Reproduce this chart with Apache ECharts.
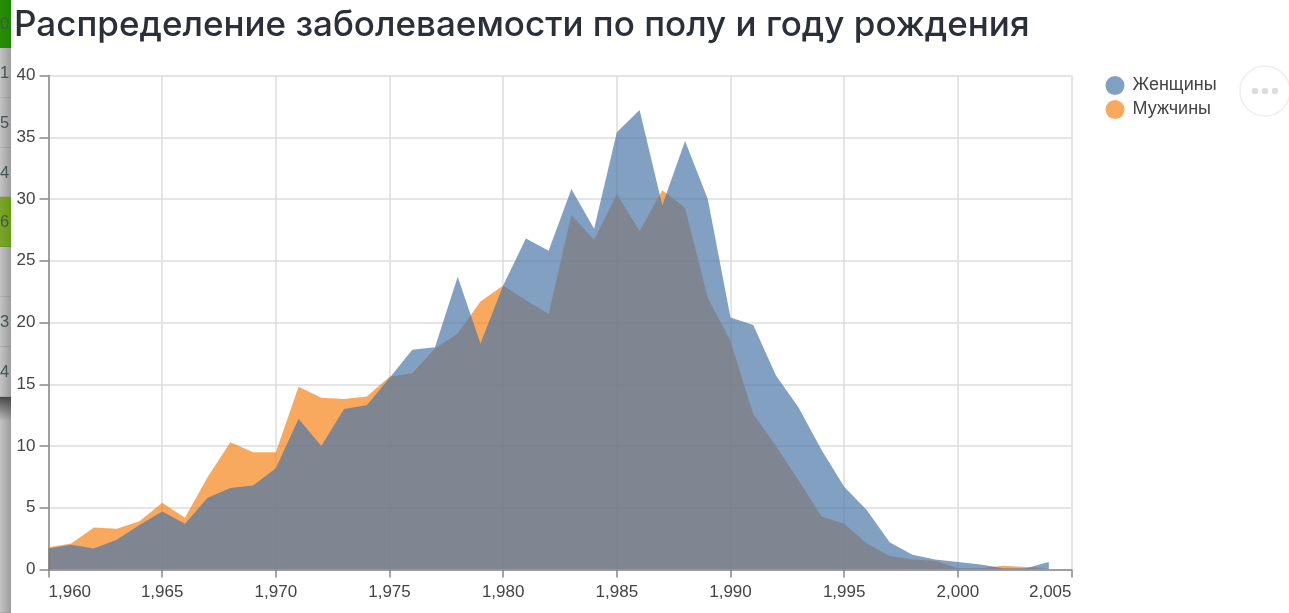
<!DOCTYPE html>
<html>
<head>
<meta charset="utf-8">
<style>
  html, body { margin: 0; padding: 0; background: #fff; }
  #chart { width: 1289px; height: 613px; }
</style>
<script src="https://cdn.jsdelivr.net/npm/echarts@6/dist/echarts.min.js"></script>
</head>
<body>
<div id="chart"></div>
<script>
var years = [1960, 1961, 1962, 1963, 1964, 1965, 1966, 1967, 1968, 1969,
    1970, 1971, 1972, 1973, 1974, 1975, 1976, 1977, 1978, 1979,
    1980, 1981, 1982, 1983, 1984, 1985, 1986, 1987, 1988, 1989,
    1990, 1991, 1992, 1993, 1994, 1995, 1996, 1997, 1998, 1999,
    2000, 2001, 2002, 2003, 2004];
var women = [1.7, 2.0, 1.7, 2.4, 3.6, 4.7, 3.7, 5.8, 6.6, 6.8,
    8.2, 12.2, 10.0, 13.0, 13.3, 15.5, 17.8, 18.0, 23.7, 18.3,
    23.0, 26.8, 25.8, 30.8, 27.6, 35.4, 37.2, 29.5, 34.7, 30.0,
    20.4, 19.8, 15.7, 13.1, 9.7, 6.7, 4.8, 2.2, 1.2, 0.8,
    0.6, 0.4, 0.1, 0.1, 0.6];
var men = [1.8, 2.1, 3.4, 3.3, 3.9, 5.4, 4.2, 7.5, 10.3, 9.5,
    9.5, 14.8, 13.9, 13.8, 14.0, 15.6, 15.9, 17.9, 19.1, 21.7,
    23.0, 21.8, 20.7, 28.7, 26.7, 30.4, 27.4, 30.7, 29.3, 22.0,
    18.5, 12.6, 10.0, 7.2, 4.3, 3.7, 2.1, 1.1, 0.8, 0.7,
    0.1, 0.1, 0.3, 0.2, 0.1];
var titleText = 'Распределение заболеваемости по полу и году рождения';
var womenName = 'Женщины';
var menName = 'Мужчины';
// cut-off table column on the left edge of the screenshot
var stripRows = [
    { y: 0, h: 48, digit: '0', c0: '#2c8c08', c1: '#1c8800' },
    { y: 48, h: 50, digit: '1', c0: '#c4c4c4', c1: '#9c9c9c' },
    { y: 98, h: 50, digit: '5', c0: '#c4c4c4', c1: '#9c9c9c' },
    { y: 148, h: 49, digit: '4', c0: '#c4c4c4', c1: '#9c9c9c' },
    { y: 197, h: 50, digit: '6', c0: '#7ba52c', c1: '#659c12' },
    { y: 247, h: 50, digit: '', c0: '#c4c4c4', c1: '#9c9c9c' },
    { y: 297, h: 50, digit: '3', c0: '#c4c4c4', c1: '#9c9c9c' },
    { y: 347, h: 50, digit: '4', c0: '#c4c4c4', c1: '#9c9c9c' },
    { y: 397, h: 216, digit: '', c0: '#c4c4c4', c1: '#9c9c9c' }
];

function pairs(values) {
    return values.map(function (v, i) { return [years[i], v]; });
}

var stripGraphic = [];
stripRows.forEach(function (row) {
    stripGraphic.push({
        type: 'rect',
        shape: { x: 0, y: row.y, width: 11, height: row.h },
        style: { fill: new echarts.graphic.LinearGradient(0, 0, 1, 0, [
            { offset: 0, color: row.c0 },
            { offset: 1, color: row.c1 }
        ]) }
    });
    stripGraphic.push({
        type: 'rect',
        shape: { x: 0, y: row.y + row.h - 0.5, width: 11, height: 1 },
        style: { fill: 'rgba(90,90,90,0.35)' }
    });
    if (row.digit) {
        stripGraphic.push({
            type: 'text',
            x: 0,
            y: row.y + row.h / 2 - 8,
            style: { text: row.digit, fill: '#455', font: '16.5px "Liberation Sans"' }
        });
    }
});
// dark shadow under the last table row
stripGraphic.push({
    type: 'rect',
    shape: { x: 0, y: 397, width: 11, height: 24 },
    style: { fill: new echarts.graphic.LinearGradient(0, 0, 0, 1, [
        { offset: 0, color: 'rgba(60,60,60,0.9)' },
        { offset: 1, color: 'rgba(60,60,60,0)' }
    ]) }
});

var chart = echarts.init(document.getElementById('chart'));

var option = {
    animation: false,
    title: {
        text: titleText,
        left: 14,
        top: 8,
        padding: 0,
        textStyle: { color: '#2b2f3a', fontFamily: 'Inter', fontWeight: 500, fontSize: 35 }
    },
    legend: {
        data: [womenName, menName],
        orient: 'vertical',
        left: 1100.5,
        top: 71,
        icon: 'circle',
        itemWidth: 19,
        itemHeight: 19,
        itemGap: 5,
        textStyle: { color: '#444', fontFamily: 'Liberation Sans', fontSize: 18, padding: [0, 0, 0, 3] }
    },
    grid: { left: 48.5, right: 217.5, top: 75.5, bottom: 43.5 },
    xAxis: {
        type: 'value',
        min: 1960,
        max: 2005,
        interval: 5,
        axisLine: { onZero: false, lineStyle: { color: '#888', width: 1.5 } },
        axisTick: { length: 8, lineStyle: { color: '#888', width: 1.5 } },
        axisLabel: {
            color: '#444',
            fontFamily: 'Liberation Sans',
            fontSize: 17,
            margin: 14,
            alignMinLabel: 'left',
            alignMaxLabel: 'right'
        },
        splitLine: { show: true, lineStyle: { color: '#ddd', width: 1.5 } }
    },
    yAxis: {
        type: 'value',
        min: 0,
        max: 40,
        interval: 5,
        axisLine: { show: true, lineStyle: { color: '#888', width: 1.5 } },
        axisTick: { show: true, length: 9, lineStyle: { color: '#888', width: 1.5 } },
        axisLabel: { color: '#444', fontFamily: 'Liberation Sans', fontSize: 17, margin: 13 },
        splitLine: { show: true, lineStyle: { color: '#ddd', width: 1.5 } }
    },
    series: [
        {
            name: menName,
            type: 'line',
            data: pairs(men),
            symbol: 'none',
            lineStyle: { width: 0 },
            itemStyle: { color: '#f58518', opacity: 0.7 },
            areaStyle: { color: '#f58518', opacity: 0.7 }
        },
        {
            name: womenName,
            type: 'line',
            data: pairs(women),
            symbol: 'none',
            lineStyle: { width: 0 },
            itemStyle: { color: '#4c78a8', opacity: 0.7 },
            areaStyle: { color: '#4c78a8', opacity: 0.7 }
        }
    ],
    graphic: stripGraphic.concat([
        {
            type: 'circle',
            shape: { cx: 1265, cy: 91, r: 25 },
            style: { fill: '#fff', stroke: '#eee', lineWidth: 1.5 }
        },
        { type: 'circle', shape: { cx: 1255, cy: 91, r: 3.2 }, style: { fill: '#ddd' } },
        { type: 'circle', shape: { cx: 1265, cy: 91, r: 3.2 }, style: { fill: '#ddd' } },
        { type: 'circle', shape: { cx: 1275, cy: 91, r: 3.2 }, style: { fill: '#ddd' } }
    ])
};

chart.setOption(option);
</script>
</body>
</html>
